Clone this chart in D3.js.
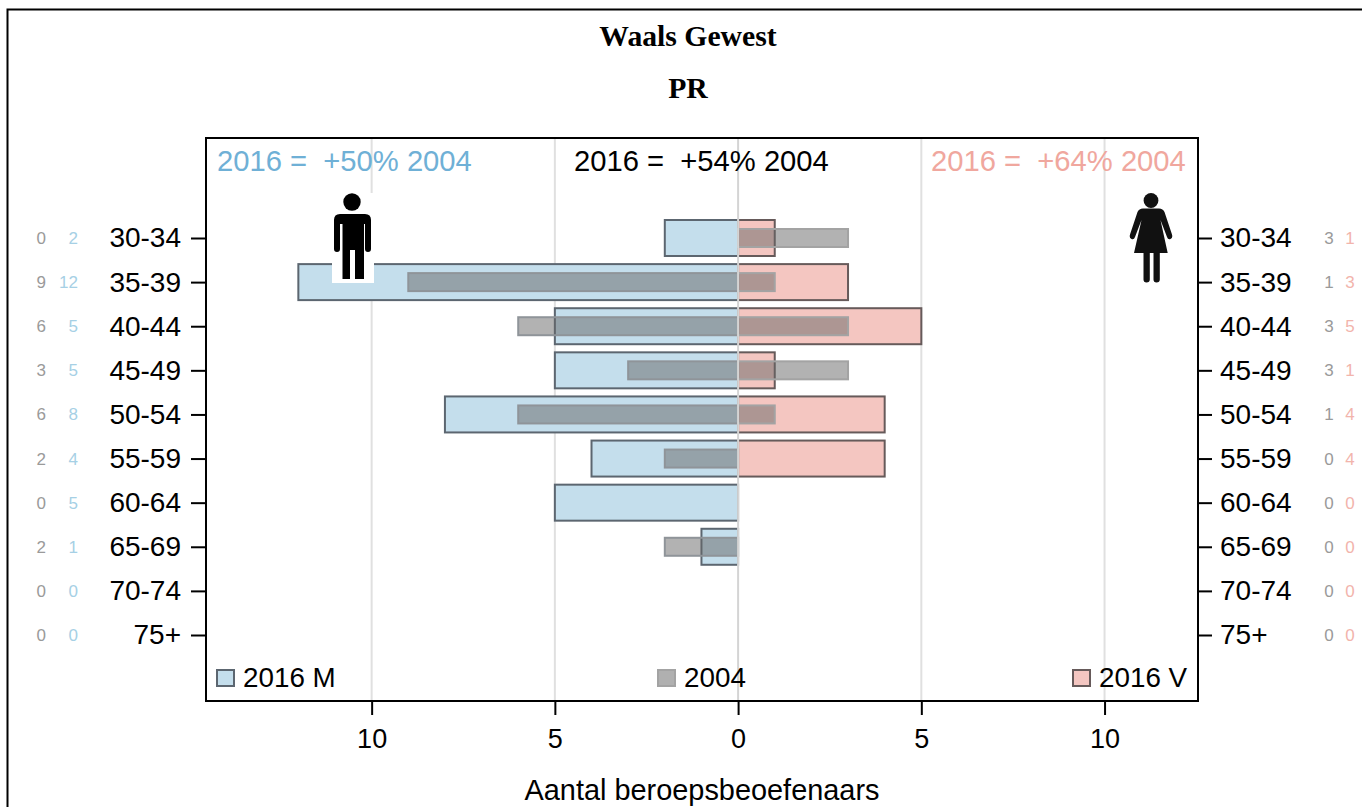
<!DOCTYPE html>
<html>
<head>
<meta charset="utf-8">
<script src="https://cdnjs.cloudflare.com/ajax/libs/d3/7.8.5/d3.min.js"></script>
<style>
  html, body { margin: 0; padding: 0; background: #fff; }
  svg { display: block; }
  text { font-family: "Liberation Sans", Arial, sans-serif; white-space: pre; }
  .title { font-family: "Liberation Serif", serif; font-weight: bold; font-size: 29.7px; text-anchor: middle; fill: #000; }
  .axis text { font-size: 28px; fill: #000; }
  .axis.bottom text { font-size: 27px; }
  .axis line { stroke: #000; stroke-width: 2px; }
</style>
</head>
<body>
<svg id="chart" width="1362" height="807"></svg>
<script>
var ages = ["30-34", "35-39", "40-44", "45-49", "50-54", "55-59", "60-64", "65-69", "70-74", "75+"];
var men2016 = [2, 12, 5, 5, 8, 4, 5, 1, 0, 0];
var men2004 = [0, 9, 6, 3, 6, 2, 0, 2, 0, 0];
var women2016 = [1, 3, 5, 1, 4, 4, 0, 0, 0, 0];
var women2004 = [3, 1, 3, 3, 1, 0, 0, 0, 0, 0];
var xTicks = [-10, -5, 0, 5, 10];
var headers = ["2016 =  +50% 2004", "2016 =  +54% 2004", "2016 =  +64% 2004"];

const BLUE = "#c4deec", PINK = "#f4c6c1", BLUE_TEXT = "#6fb0d6", PINK_TEXT = "#f0a79e";

var svg = d3.select("#chart");
var box = { left: 206, right: 1198, top: 138, bottom: 701 };

// men go left of zero as negative values, women right
var x = d3.scaleLinear().domain([-14.52, 12.55]).range([box.left, box.right]);
var y = d3.scalePoint().domain(ages).range([238, 635]);

// page frame, only top and left are visible
svg.append("path").attr("d", "M7.5,807V9.5H1362").attr("fill", "none").attr("stroke", "#000").attr("stroke-width", 2);

svg.append("text").attr("class", "title").attr("x", 688).attr("y", 46).text("Waals Gewest");
svg.append("text").attr("class", "title").attr("x", 688).attr("y", 98).text("PR");

// grid
svg.selectAll(".grid").data(xTicks.filter(d => d !== 0)).join("line")
  .attr("class", "grid")
  .attr("x1", d => x(d)).attr("x2", d => x(d))
  .attr("y1", box.top).attr("y2", box.bottom)
  .attr("stroke", "#e0e0e0").attr("stroke-width", 2);

function drawBars(values, side, fill, stroke, height, opacity) {
  svg.append("g").selectAll("rect")
    .data(values.map((v, i) => ({ age: ages[i], v: v })).filter(d => d.v > 0))
    .join("rect")
    .attr("x", d => side < 0 ? x(-d.v) : x(0))
    .attr("width", d => Math.abs(x(d.v) - x(0)))
    .attr("y", d => y(d.age) - height / 2)
    .attr("height", height)
    .attr("fill", fill)
    .attr("fill-opacity", opacity)
    .attr("stroke", stroke)
    .attr("stroke-width", 2);
}

drawBars(men2016, -1, BLUE, "#5c6670", 36, 1);
drawBars(women2016, 1, PINK, "#665a5a", 36, 1);
drawBars(men2004, -1, "#666666", "#8f9499", 18, 0.5);
drawBars(women2004, 1, "#666666", "#a3a3a3", 18, 0.5);

// zero line
svg.append("line").attr("x1", x(0)).attr("x2", x(0)).attr("y1", box.top).attr("y2", box.bottom)
  .attr("stroke", "#d4d4d4").attr("stroke-width", 2);

// man icon on white patch
var man = svg.append("g");
man.append("rect").attr("x", 332).attr("y", 193).attr("width", 42).attr("height", 90).attr("fill", "#fff");
man.append("circle").attr("cx", 352).attr("cy", 202).attr("r", 8.7).attr("fill", "#000");
man.append("path").attr("fill", "#000").attr("d",
  "M340,214H365Q371,214 371,220V249Q371,252 368,252Q365,252 365,249V224H364V279H355V250H350V279H342.5V224H340V249Q340,252 337,252Q334,252 334,249V220Q334,214 340,214Z");

// woman icon
var woman = svg.append("g").attr("fill", "#111");
woman.append("circle").attr("cx", 1151).attr("cy", 200.5).attr("r", 7.4);
woman.append("path").attr("d",
  "M1143,208.5H1159Q1163,208.5 1164.5,212L1172,234.5Q1173,238 1170.5,239Q1168,240 1167,237L1160.5,220L1167.7,253H1159.8V279.5Q1159.8,282.5 1156.5,282.5Q1153.5,282.5 1153.5,279.5V253H1149.8V279.5Q1149.8,282.5 1146.5,282.5Q1143.5,282.5 1143.5,279.5V253H1134L1141.5,220L1135,237Q1134,240 1131.5,239Q1129,238 1130,234.5L1137.5,212Q1139,208.5 1143,208.5Z");

// plot box
svg.append("rect").attr("x", box.left).attr("y", box.top)
  .attr("width", box.right - box.left).attr("height", box.bottom - box.top)
  .attr("fill", "none").attr("stroke", "#000").attr("stroke-width", 2);

// axes
var axisLeft = d3.axisLeft(y).tickSize(15).tickPadding(10);
var axisRight = d3.axisRight(y).tickSize(14).tickPadding(8);
var axisBottom = d3.axisBottom(x).tickValues(xTicks).tickFormat(d => Math.abs(d)).tickSize(14).tickPadding(14);

svg.append("g").attr("class", "axis").attr("transform", `translate(${box.left},0)`).call(axisLeft).call(g => g.select(".domain").remove());
svg.append("g").attr("class", "axis").attr("transform", `translate(${box.right},0)`).call(axisRight).call(g => g.select(".domain").remove());
svg.append("g").attr("class", "axis bottom").attr("transform", `translate(0,${box.bottom})`).call(axisBottom).call(g => g.select(".domain").remove());

svg.append("text").attr("x", 702).attr("y", 800).attr("text-anchor", "middle")
  .attr("font-size", 28.9).attr("fill", "#000").text("Aantal beroepsbeoefenaars");

// header texts
svg.append("text").attr("x", 217).attr("y", 171).attr("font-size", 29.2).attr("fill", BLUE_TEXT).text(headers[0]);
svg.append("text").attr("x", 574).attr("y", 171).attr("font-size", 29.2).attr("fill", "#000").text(headers[1]);
svg.append("text").attr("x", 931).attr("y", 171).attr("font-size", 29.2).attr("fill", PINK_TEXT).text(headers[2]);

// counts in the margins
function drawCounts(values, xPos, anchor, color) {
  svg.append("g").selectAll("text").data(values).join("text")
    .attr("x", xPos)
    .attr("y", (d, i) => y(ages[i]) + 6)
    .attr("text-anchor", anchor)
    .attr("font-size", 17)
    .attr("fill", color)
    .text(d => d);
}
drawCounts(men2004, 46, "end", "#9a9a9a");
drawCounts(men2016, 78, "end", "#a6d0e5");
drawCounts(women2004, 1329, "middle", "#9a9a9a");
drawCounts(women2016, 1350, "middle", "#f2b4ac");

// legend
var legendItems = [
  { x: 217, label: "2016 M", fill: BLUE, stroke: "#5c6670" },
  { x: 658, label: "2004", fill: "#b0b0b0", stroke: "#a3a3a3" },
  { x: 1073, label: "2016 V", fill: PINK, stroke: "#665a5a" }
];
var legend = svg.append("g").selectAll("g").data(legendItems).join("g");
legend.append("rect")
  .attr("x", d => d.x).attr("y", 670).attr("width", 17).attr("height", 16)
  .attr("fill", d => d.fill).attr("stroke", d => d.stroke).attr("stroke-width", 2);
legend.append("text")
  .attr("x", d => d.x + 26).attr("y", 687)
  .attr("font-size", 27.8).attr("fill", "#000").text(d => d.label);
</script>
</body>
</html>
